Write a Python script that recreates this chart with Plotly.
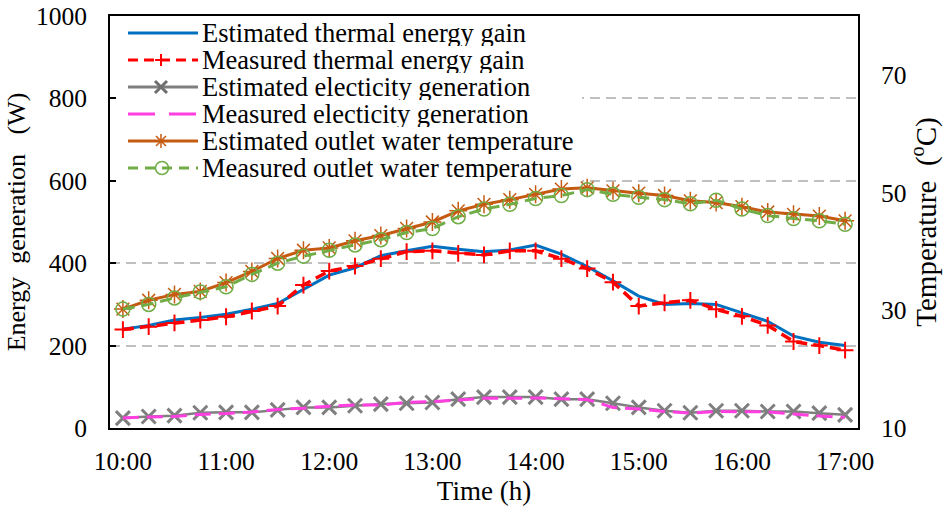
import plotly.graph_objects as go

times = ["10:00", "10:15", "10:30", "10:45", "11:00", "11:15", "11:30", "11:45",
         "12:00", "12:15", "12:30", "12:45", "13:00", "13:15", "13:30", "13:45",
         "14:00", "14:15", "14:30", "14:45", "15:00", "15:15", "15:30", "15:45",
         "16:00", "16:15", "16:30", "16:45", "17:00"]

thermal_est = [240, 249, 262, 268, 276, 288, 302, 337, 371, 389, 418, 430, 441, 434, 428,
               432, 444, 422, 392, 357, 320, 300, 302, 300, 280, 259, 223, 208, 200]
thermal_meas = [239, 246, 255, 262, 270, 284, 296, 347, 381, 393, 411, 428, 430, 424, 420,
                430, 430, 411, 387, 354, 296, 304, 310, 288, 271, 249, 210, 200, 189]
elec_est = [24, 28, 30, 37, 38, 38, 44, 50, 50, 54, 58, 60, 62, 70, 75,
            75, 75, 70, 70, 60, 50, 42, 37, 42, 42, 40, 40, 36, 32]
elec_meas = [24, 27, 28, 33, 35, 39, 45, 48, 53, 56, 56, 62, 64, 68, 72,
             72, 73, 71, 69, 50, 46, 40, 36, 40, 40, 39, 34, 29, 26]
temp_est = [30.2, 31.7, 32.7, 33.2, 34.7, 36.6, 38.8, 40.2, 40.6, 41.8, 42.7, 43.9, 45.0, 46.9, 48.0,
            48.8, 49.7, 50.6, 50.8, 50.3, 49.9, 49.5, 48.6, 48.3, 47.6, 46.7, 46.3, 46.0, 45.2]
temp_meas = [30.2, 31.0, 32.1, 33.1, 34.0, 36.1, 38.0, 39.2, 40.2, 41.1, 42.0, 43.2, 43.9, 45.9, 47.2,
             48.0, 49.0, 49.5, 50.5, 49.7, 49.2, 48.8, 48.1, 48.7, 47.2, 46.1, 45.6, 45.2, 44.6]

series_names = ["Estimated thermal energy gain", "Measured thermal energy gain",
                "Estimated electicity generation", "Measured electicity generation",
                "Estimated outlet water temperature", "Measured outlet water temperature"]

x = list(range(len(times)))
label_idx = [i for i, t in enumerate(times) if t.endswith(":00")]
boundary_ticks = [i + 3.5 for i in label_idx[:-1]]
X_RANGE = [-0.5, len(times) - 0.5]
Y_RANGE = [0, 1000]

FONT = "Liberation Serif, Times New Roman, serif"
BLUE, RED, GRAY, PINK, ORANGE, GREEN = "#0070C0", "#FF0000", "#7F7F7F", "#FF3FDF", "#C55A11", "#70AD47"

fig = go.Figure()
fig.add_trace(go.Scatter(x=x, y=thermal_est, name=series_names[0],
                         mode="lines", line=dict(color=BLUE, width=3)))
fig.add_trace(go.Scatter(x=x, y=thermal_meas, name=series_names[1],
                         mode="lines+markers", line=dict(color=RED, width=3.5, dash="11px,6px"),
                         marker=dict(symbol="cross-thin-open", size=12, line=dict(color=RED, width=2))))
fig.add_trace(go.Scatter(x=x, y=elec_est, name=series_names[2],
                         mode="lines+markers", line=dict(color=GRAY, width=2.5),
                         marker=dict(symbol="x-thin-open", size=14, line=dict(color="#6E6E6E", width=3))))
fig.add_trace(go.Scatter(x=x, y=elec_meas, name=series_names[3],
                         mode="lines", line=dict(color=PINK, width=3, dash="16px,8px")))
fig.add_trace(go.Scatter(x=x, y=temp_est, name=series_names[4], yaxis="y2",
                         mode="lines+markers", line=dict(color=ORANGE, width=3),
                         marker=dict(symbol="asterisk-open", size=15, line=dict(color=ORANGE, width=1.5))))
fig.add_trace(go.Scatter(x=x, y=temp_meas, name=series_names[5], yaxis="y2",
                         mode="lines+markers", line=dict(color=GREEN, width=3, dash="12px,7px"),
                         marker=dict(symbol="circle-open", size=14, line=dict(color=GREEN, width=1.5))))

# ---- manual legend (Excel-like compact rows) ----
PL, PR, PT, PB = 110, 858, 16, 428
def px(v):
    return (v - PL) / (PR - PL)
def py(v):
    return (PB - v) / (PB - PT)
def dx(v):
    return X_RANGE[0] + px(v) * (X_RANGE[1] - X_RANGE[0])
def dy(v):
    return Y_RANGE[0] + py(v) * (Y_RANGE[1] - Y_RANGE[0])

ROW_H = 27
shapes = [dict(type="rect", xref="x", yref="y", x0=dx(113), x1=dx(582),
               y0=dy(184), y1=dy(19), fillcolor="white", line=dict(width=0), layer="between")]
annotations = []
row_y = [33 + ROW_H * k for k in range(len(series_names))]
sample_styles = [
    dict(color=BLUE, width=3, dash="solid", glyph=None),
    dict(color=RED, width=3, dash="10px,6px", glyph="plus"),
    dict(color=GRAY, width=3, dash="solid", glyph="x"),
    dict(color=PINK, width=3, dash="27px,14px", glyph=None),
    dict(color=ORANGE, width=3, dash="solid", glyph="asterisk"),
    dict(color=GREEN, width=3, dash="10px,7px", glyph="circle"),
]
glyph_paths = {
    "plus": ("M-6,0L6,0M0,-6L0,6", 2, RED),
    "x": ("M-6,-6L6,6M-6,6L6,-6", 3, "#6E6E6E"),
    "asterisk": ("M-7,0L7,0M0,-7L0,7M-5,-5L5,5M-5,5L5,-5", 1.5, ORANGE),
}
for name, yy, st in zip(series_names, row_y, sample_styles):
    shapes.append(dict(type="line", xref="paper", yref="paper", x0=px(128), x1=px(198),
                       y0=py(yy), y1=py(yy), line=dict(color=st["color"], width=st["width"], dash=st["dash"]),
                       layer="above"))
    g = st["glyph"]
    if g in glyph_paths:
        path, lw, col = glyph_paths[g]
        shapes.append(dict(type="path", xref="paper", yref="paper", xsizemode="pixel", ysizemode="pixel",
                           xanchor=px(161), yanchor=py(yy), path=path,
                           line=dict(color=col, width=lw), layer="above"))
    elif g == "circle":
        shapes.append(dict(type="circle", xref="paper", yref="paper", xsizemode="pixel", ysizemode="pixel",
                           xanchor=px(162), yanchor=py(yy), x0=-6.5, x1=6.5, y0=-6.5, y1=6.5,
                           line=dict(color=GREEN, width=1.5), fillcolor="rgba(0,0,0,0)", layer="above"))
    annotations.append(dict(text=name, xref="paper", yref="paper", x=px(201), y=py(yy),
                            xanchor="left", yanchor="middle", showarrow=False, borderpad=0,
                            height=ROW_H - 1, valign="middle",
                            font=dict(family=FONT, size=26.5, color="black")))

tick_font = dict(family=FONT, size=25.5, color="black")

fig.update_layout(
    width=943, height=515,
    margin=dict(l=PL, r=943 - PR, t=PT, b=515 - PB, autoexpand=False),
    paper_bgcolor="white", plot_bgcolor="white",
    font=dict(family=FONT, size=25, color="black"),
    showlegend=False,
    shapes=shapes,
    annotations=annotations,
    xaxis=dict(range=X_RANGE, tickvals=label_idx, automargin=False,
               ticktext=[times[i] for i in label_idx], ticks="",
               showgrid=False, zeroline=False, showline=True, linecolor="black",
               linewidth=2, mirror=True, tickfont=tick_font, ticklabelstandoff=9,
               title=dict(text="Time (h)", font=dict(family=FONT, size=27, color="black"), standoff=4)),
    xaxis2=dict(range=X_RANGE, overlaying="x", anchor="y", side="bottom", automargin=False,
                tickvals=boundary_ticks, ticks="inside", ticklen=7, tickwidth=1.5,
                tickcolor="black", showticklabels=False, showgrid=False, zeroline=False),
    yaxis=dict(range=Y_RANGE, dtick=200, ticks="inside", ticklen=6, tickwidth=1.5, automargin=False,
               tickcolor="black", showgrid=True, gridcolor="#BFBFBF", gridwidth=1.5,
               griddash="10px,6px", zeroline=False, showline=True, linecolor="black",
               linewidth=2, mirror=True, tickfont=tick_font, ticklabelstandoff=16,
               title=dict(text="Energy\u00a0\u00a0generation\u00a0\u00a0\u00a0(W)",
                          font=dict(family=FONT, size=26, color="black"), standoff=3)),
    yaxis2=dict(range=[10, 80], tick0=10, dtick=20, overlaying="y", side="right", automargin=False,
                showgrid=False, zeroline=False, ticks="", showline=False,
                tickfont=tick_font, ticklabelstandoff=22,
                title=dict(text="Temperature\u00a0\u00a0(<sup>o</sup>C)",
                           font=dict(family=FONT, size=29, color="black"), standoff=8)),
)

fig.write_html("out.html")
